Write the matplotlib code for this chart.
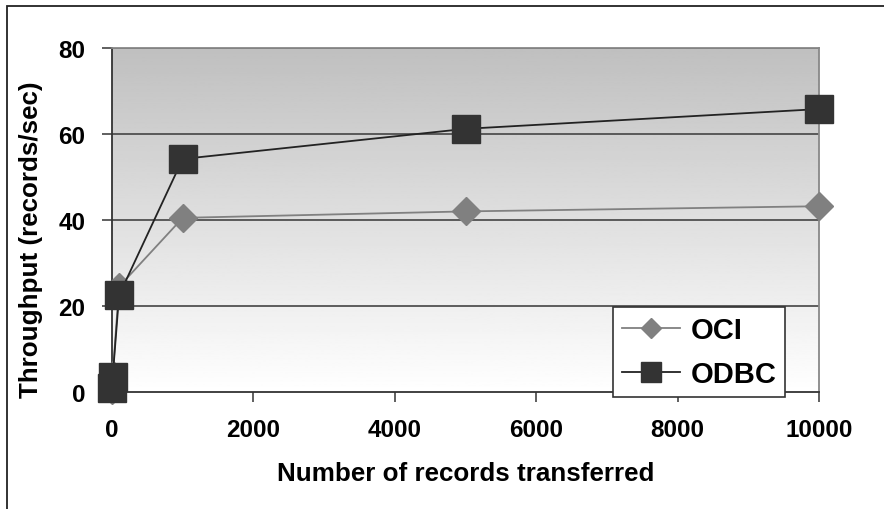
import numpy as np
import matplotlib
matplotlib.use("Agg")
import matplotlib.pyplot as plt
from matplotlib.patches import Rectangle

# data
records = [1, 10, 100, 1000, 5000, 10000]
oci = [0.5, 4.0, 24.5, 40.5, 42.0, 43.2]
odbc = [1.0, 3.5, 22.5, 54.2, 61.2, 65.8]
yticks = [0, 20, 40, 60, 80]
xticks = [0, 2000, 4000, 6000, 8000, 10000]

plt.rcParams['font.family'] = ['Liberation Sans', 'DejaVu Sans']
plt.rcParams['font.weight'] = 'bold'

W, H = 884, 510
L, R, T, B = 112, 819, 49, 393  # plot area in pixels
fig = plt.figure(figsize=(W/100, H/100), dpi=100)
ax = fig.add_axes([L/W, 1-B/H, (R-L)/W, (B-T)/H])

# outer frame of the picture
fig.patches.append(Rectangle((7/W, -0.05), 1.1, 1-7/H+0.05, transform=fig.transFigure,
                             fill=False, edgecolor='#222222', lw=1.3))

# gradient background, grey at top to white at bottom
grad = np.linspace(1.0, 0.75, 256).reshape(-1, 1)
ax.imshow(grad, cmap='gray', vmin=0, vmax=1, aspect='auto', extent=[0, 1, 0, 1],
          transform=ax.transAxes, zorder=0, origin='lower')

for y in yticks[1:]:
    ax.axhline(y, color='#444444', lw=1.2, zorder=1)

ax.plot(records, oci, color='#808080', lw=1.3, marker='D', ms=14.5,
        markerfacecolor='#808080', markeredgecolor='#808080', label='OCI', zorder=3, clip_on=False)
ax.plot(records, odbc, color='#222222', lw=1.3, marker='s', ms=20,
        markerfacecolor='#333333', markeredgecolor='#333333', label='ODBC', zorder=4, clip_on=False)

ax.set_xlim(0, 10000)
ax.set_ylim(0, 80)
ax.set_xticks(xticks)
ax.set_yticks(yticks)
ax.tick_params(axis='both', labelsize=17.5, length=7, width=1.2, colors='#444444',
               labelcolor='black', direction='out')
ax.tick_params(axis='x', pad=12)
ax.tick_params(axis='y', pad=12)
for lab in ax.get_xticklabels() + ax.get_yticklabels():
    lab.set_fontweight('bold')

ax.spines['left'].set_color('#333333')
ax.spines['bottom'].set_color('#333333')
ax.spines['top'].set_color('#888888')
ax.spines['right'].set_color('#888888')
for s in ax.spines.values():
    s.set_linewidth(1.3)

ax.set_xlabel('Number of records transferred', fontsize=18.7, fontweight='bold', labelpad=14)
ax.set_ylabel('Throughput (records/sec)', fontsize=18.7, fontweight='bold')
ax.yaxis.set_label_coords((43-L)/(R-L), (B-240)/(B-T))

leg = ax.legend(loc='lower right', bbox_to_anchor=((785-L)/(R-L), (B-398)/(B-T)),
                prop={'size': 21, 'weight': 'bold'}, frameon=True, fancybox=False,
                edgecolor='#333333', framealpha=1, handlelength=2.0, handletextpad=0.35,
                borderpad=0.3, labelspacing=0.55, borderaxespad=0, markerscale=0.72)
leg.get_frame().set_linewidth(1.2)
leg.set_zorder(5)

fig.savefig('out.png', dpi=100)
